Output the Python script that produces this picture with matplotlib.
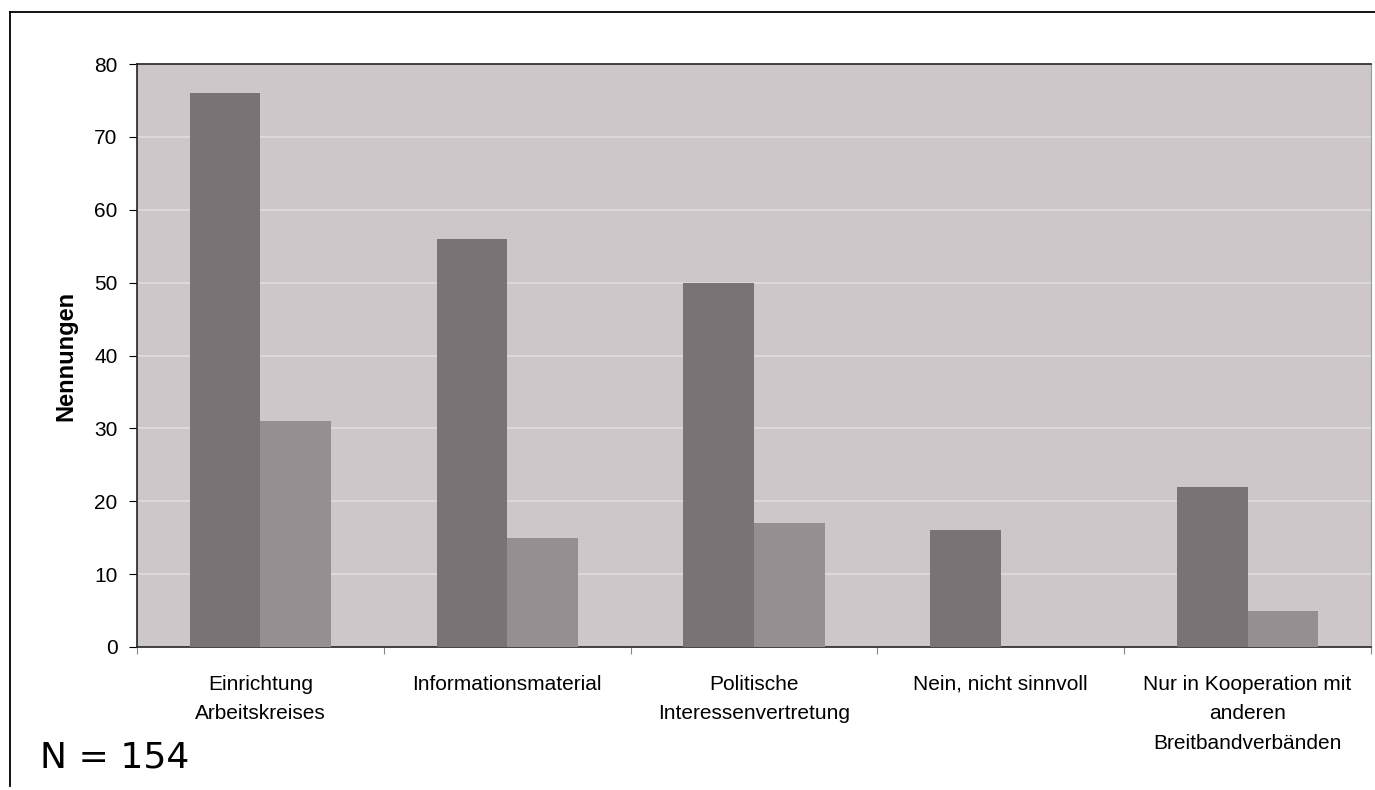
import numpy as np
import matplotlib.pyplot as plt
from matplotlib.lines import Line2D

categories = [
    'Einrichtung\nArbeitskreises',
    'Informationsmaterial',
    'Politische\nInteressenvertretung',
    'Nein, nicht sinnvoll',
    'Nur in Kooperation mit\nanderen\nBreitbandverbänden',
]
series_dark = [76, 56, 50, 16, 22]
series_light = [31, 15, 17, 0, 5]
y_ticks = [0, 10, 20, 30, 40, 50, 60, 70, 80]

plt.rcParams['font.family'] = ['Liberation Sans', 'DejaVu Sans']

fig = plt.figure(figsize=(13.75, 7.9), dpi=100)
ax = fig.add_axes([137 / 1375, 1 - 647 / 790, (1371 - 137) / 1375, (647 - 64) / 790])

x = np.arange(len(categories))
width = 1 / 3.5
ax.bar(x - width / 2, series_dark, width, color='#7a7375', zorder=3)
ax.bar(x + width / 2, series_light, width, color='#968f91', zorder=3)

ax.set_facecolor('#cdc7c9')
ax.set_xlim(-0.5, len(categories) - 0.5)
ax.set_ylim(0, 80)
ax.set_yticks(y_ticks)
ax.yaxis.grid(True, color='#ddd8da', linewidth=1.5, zorder=1)
ax.set_xticks(np.arange(len(categories) + 1) - 0.5, minor=False)
ax.set_xticklabels([])
ax.set_xticks(x, minor=True)
ax.set_xticklabels(categories, minor=True, fontsize=15, linespacing=1.7)
ax.tick_params(axis='x', which='minor', length=0, pad=20)
ax.tick_params(axis='x', which='major', length=5, color='#888888')
ax.tick_params(axis='y', labelsize=15, length=6, pad=8)
ax.set_ylabel('Nennungen', fontsize=17, fontweight='bold', labelpad=12)

for side in ['left', 'bottom', 'top']:
    ax.spines[side].set_color('#222222')
    ax.spines[side].set_linewidth(1.2)
ax.spines['right'].set_color('#999999')

# outer frame of the original figure
fig.add_artist(Line2D([10 / 1375, 10 / 1375], [1 - 12 / 790, 0.005], transform=fig.transFigure, color='black', linewidth=1.3))
fig.add_artist(Line2D([10 / 1375, 1.0], [1 - 12 / 790, 1 - 12 / 790], transform=fig.transFigure, color='black', linewidth=1.3))

fig.text(40 / 1375, 1 - 757 / 790, 'N = 154', fontsize=26, family='DejaVu Sans', va='center', ha='left')

fig.savefig('out.png', dpi=100)
